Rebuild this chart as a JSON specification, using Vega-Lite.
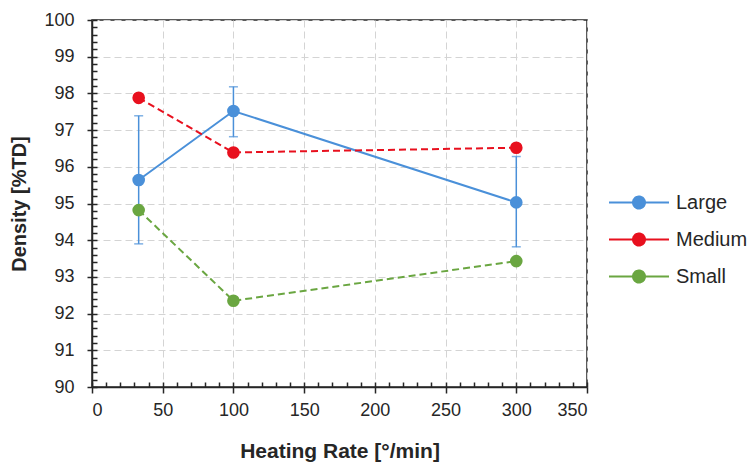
{
  "$schema": "https://vega.github.io/schema/vega-lite/v6.json",
  "width": 495,
  "height": 367,
  "autosize": {"type": "none"},
  "padding": {"left": 92, "top": 20, "right": 163, "bottom": 81},
  "config": {
    "font": "Liberation Sans",
    "view": {"stroke": "#262626", "strokeWidth": 1.5},
    "axis": {
      "labelFont": "Liberation Sans",
      "titleFont": "Liberation Sans",
      "labelColor": "#262626",
      "titleColor": "#262626",
      "domainColor": "#262626",
      "tickColor": "#262626",
      "domainWidth": 1.5,
      "tickWidth": 1.5
    },
    "legend": {"labelFont": "Liberation Sans"}
  },
  "data": {
    "values": [
      {"rate": 33, "density": 95.64, "lo": 93.9, "hi": 97.39, "size": "Large"},
      {"rate": 100, "density": 97.52, "lo": 96.82, "hi": 98.18, "size": "Large"},
      {"rate": 300, "density": 95.03, "lo": 93.82, "hi": 96.28, "size": "Large"},
      {"rate": 33, "density": 97.88, "size": "Medium"},
      {"rate": 100, "density": 96.39, "size": "Medium"},
      {"rate": 300, "density": 96.52, "size": "Medium"},
      {"rate": 33, "density": 94.82, "size": "Small"},
      {"rate": 100, "density": 92.35, "size": "Small"},
      {"rate": 300, "density": 93.43, "size": "Small"}
    ]
  },
  "resolve": {"axis": {"x": "independent", "y": "independent"}},
  "layer": [
    {
      "transform": [{"filter": "datum.size === 'Large'"}],
      "mark": {"type": "errorbar", "ticks": {"size": 9}, "color": "#4A90D9", "thickness": 1.5},
      "encoding": {
        "x": {
          "field": "rate", "type": "quantitative",
          "scale": {"domain": [0, 350], "nice": false, "zero": false},
          "axis": {
            "orient": "bottom",
            "title": "Heating Rate [°/min]",
            "titleFontSize": 21,
            "titleFontWeight": "bold",
            "titlePadding": 21,
            "values": [0, 50, 100, 150, 200, 250, 300, 350],
            "labelFontSize": 18,
            "labelPadding": 8,
            "tickSize": 6,
            "grid": true,
            "gridColor": "#d4d4d4",
            "gridDash": [7, 4],
            "gridWidth": 1
          }
        },
        "y": {
          "field": "lo", "type": "quantitative",
          "scale": {"domain": [90, 100], "nice": false, "zero": false},
          "axis": {
            "orient": "left",
            "title": "Density [%TD]",
            "titleFontSize": 20,
            "titleFontWeight": "bold",
            "titlePadding": 14,
            "values": [90, 91, 92, 93, 94, 95, 96, 97, 98, 99, 100],
            "labelFontSize": 18,
            "labelPadding": 13,
            "tickSize": 5,
            "grid": true,
            "gridColor": "#d4d4d4",
            "gridDash": [7, 4],
            "gridWidth": 1
          }
        },
        "y2": {"field": "hi"}
      }
    },
    {
      "transform": [{"filter": "datum.size === 'Large'"}],
      "mark": {"type": "line", "strokeWidth": 2},
      "encoding": {
        "x": {
          "field": "rate", "type": "quantitative",
          "axis": {
            "orient": "bottom", "title": null, "labels": false, "grid": false, "domain": false,
            "tickSize": 5, "offset": -5,
            "values": [0, 10, 20, 30, 40, 50, 60, 70, 80, 90, 100, 110, 120, 130, 140, 150, 160, 170, 180, 190, 200, 210, 220, 230, 240, 250, 260, 270, 280, 290, 300, 310, 320, 330, 340, 350]
          }
        },
        "y": {
          "field": "density", "type": "quantitative",
          "axis": {
            "orient": "left", "title": null, "labels": false, "grid": false, "domain": false,
            "tickSize": 5, "offset": -5,
            "values": [90, 90.2, 90.4, 90.6, 90.8, 91, 91.2, 91.4, 91.6, 91.8, 92, 92.2, 92.4, 92.6, 92.8, 93, 93.2, 93.4, 93.6, 93.8, 94, 94.2, 94.4, 94.6, 94.8, 95, 95.2, 95.4, 95.6, 95.8, 96, 96.2, 96.4, 96.6, 96.8, 97, 97.2, 97.4, 97.6, 97.8, 98, 98.2, 98.4, 98.6, 98.8, 99, 99.2, 99.4, 99.6, 99.8, 100]
          }
        },
        "color": {
          "field": "size", "type": "nominal",
          "scale": {"domain": ["Large", "Medium", "Small"], "range": ["#4A90D9", "#E8101E", "#6AA641"]},
          "legend": {
            "title": null,
            "orient": "none",
            "legendX": 516,
            "legendY": 164,
            "padding": 0,
            "symbolType": "M-1,0H1M-0.2,0C-0.2,-0.11,-0.11,-0.2,0,-0.2C0.11,-0.2,0.2,-0.11,0.2,0C0.2,0.11,0.11,0.2,0,0.2C-0.11,0.2,-0.2,0.11,-0.2,0Z",
            "symbolSize": 3600,
            "symbolStrokeWidth": 2,
            "symbolDash": [1, 0],
            "labelFontSize": 20,
            "labelColor": "#262626",
            "labelOffset": 6,
            "clipHeight": 37,
            "rowPadding": 0,
            "encode": {
              "symbols": {
                "update": {
                  "fill": {"scale": "color", "field": "value"},
                  "stroke": {"scale": "color", "field": "value"}
                }
              }
            }
          }
        }
      }
    },
    {
      "transform": [{"filter": "datum.size !== 'Large'"}],
      "mark": {"type": "line", "strokeWidth": 2, "strokeDash": [7, 4]},
      "encoding": {
        "x": {"field": "rate", "type": "quantitative", "axis": null},
        "y": {"field": "density", "type": "quantitative", "axis": null},
        "color": {"field": "size", "type": "nominal"}
      }
    },
    {
      "mark": {"type": "point", "filled": true, "opacity": 1, "size": 160},
      "encoding": {
        "x": {"field": "rate", "type": "quantitative", "axis": null},
        "y": {"field": "density", "type": "quantitative", "axis": null},
        "color": {"field": "size", "type": "nominal"}
      }
    }
  ]
}
